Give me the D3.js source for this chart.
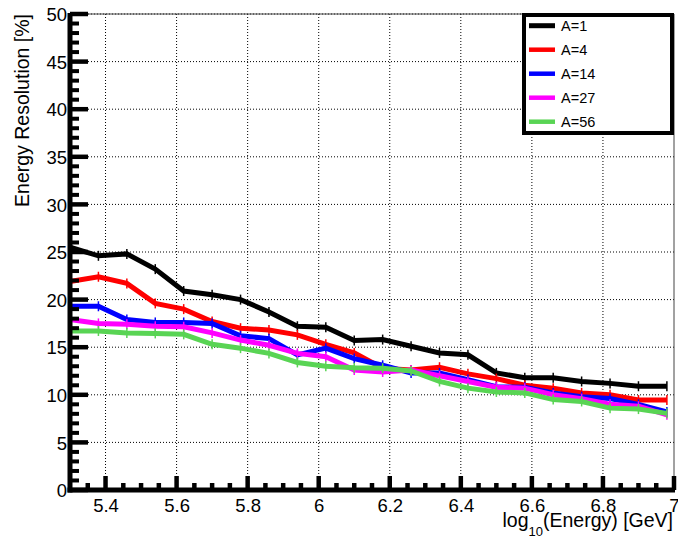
<!DOCTYPE html>
<html>
<head>
<meta charset="utf-8">
<script src="https://cdn.jsdelivr.net/npm/d3@7"></script>
<style>
  html, body { margin: 0; padding: 0; background: #fff; }
  svg { display: block; font-family: "Liberation Sans", Arial, sans-serif; }
</style>
</head>
<body>
<div id="chart"></div>
<script>
// log10(E) bin positions
var energies = d3.range(22).map(function (i) { return +(5.3 + 0.08 * i).toFixed(2); });

var labels = ["A=1", "A=4", "A=14", "A=27", "A=56"];
var colors = ["#000000", "#ff0000", "#0000ff", "#ff00ff", "#59d454"];

var resA1  = [25.5, 24.6, 24.8, 23.2, 20.9, 20.5, 20.0, 18.7, 17.2, 17.1, 15.7, 15.8, 15.1, 14.4, 14.2, 12.3, 11.8, 11.8, 11.4, 11.2, 10.9, 10.9];
var resA4  = [21.9, 22.4, 21.7, 19.6, 19.0, 17.7, 17.0, 16.8, 16.3, 15.3, 14.4, 12.8, 12.6, 12.9, 12.2, 11.7, 11.0, 10.7, 10.2, 10.0, 9.45, 9.45];
var resA14 = [19.3, 19.3, 17.9, 17.6, 17.6, 17.5, 16.2, 15.9, 14.2, 14.9, 13.8, 13.1, 12.3, 12.3, 11.6, 10.85, 10.8, 10.2, 9.8, 9.6, 9.0, 8.2];
var resA27 = [17.9, 17.5, 17.4, 17.2, 17.15, 16.5, 15.75, 15.2, 14.35, 14.0, 12.6, 12.4, 12.6, 12.0, 11.4, 10.8, 10.7, 10.0, 9.6, 9.0, 8.8, 7.9];
var resA56 = [16.7, 16.7, 16.5, 16.45, 16.35, 15.3, 14.9, 14.35, 13.4, 13.0, 12.85, 12.8, 12.5, 11.4, 10.7, 10.3, 10.2, 9.5, 9.3, 8.6, 8.5, 8.05];

var series = [resA1, resA4, resA14, resA27, resA56];

var xTicks = [5.4, 5.6, 5.8, 6, 6.2, 6.4, 6.6, 6.8, 7];
var yTicks = [0, 5, 10, 15, 20, 25, 30, 35, 40, 45, 50];

var W = 678, H = 539;
var padL = 70, padR = 674, padT = 14, padB = 490;
var fontFam = "Liberation Sans, Arial, sans-serif";

var x = d3.scaleLinear().domain([5.3, 7]).range([padL, padR]);
var y = d3.scaleLinear().domain([0, 50]).range([padB, padT]);

var svg = d3.select("#chart").append("svg")
  .attr("width", W).attr("height", H);

// grid
var grid = svg.append("g");
grid.selectAll(".gx").data(xTicks.filter(function (d) { return d < 7; }))
  .enter().append("line")
  .attr("x1", function (d) { return x(d); }).attr("x2", function (d) { return x(d); })
  .attr("y1", padT).attr("y2", padB)
  .attr("stroke", "#000").attr("stroke-width", 1).attr("stroke-dasharray", "1,2");
grid.selectAll(".gy").data(yTicks.filter(function (d) { return d > 0; }))
  .enter().append("line")
  .attr("x1", padL).attr("x2", padR)
  .attr("y1", function (d) { return y(d); }).attr("y2", function (d) { return y(d); })
  .attr("stroke", "#000").attr("stroke-width", 1).attr("stroke-dasharray", "1,2");

// frame top / right
svg.append("line").attr("x1", padL).attr("x2", padR).attr("y1", padT).attr("y2", padT)
  .attr("stroke", "#444").attr("stroke-width", 1);
svg.append("line").attr("x1", padR).attr("x2", padR).attr("y1", padT).attr("y2", padB)
  .attr("stroke", "#444").attr("stroke-width", 1);

// series
var line = d3.line()
  .x(function (d, i) { return x(energies[i]); })
  .y(function (d) { return y(d); });

series.forEach(function (vals, k) {
  var g = svg.append("g");
  g.append("path").datum(vals)
    .attr("d", line)
    .attr("fill", "none")
    .attr("stroke", colors[k])
    .attr("stroke-width", 5)
    .attr("stroke-linejoin", "miter");
  // small error bar marks
  g.selectAll("line").data(vals).enter().append("line")
    .attr("x1", function (d, i) { return x(energies[i]); })
    .attr("x2", function (d, i) { return x(energies[i]); })
    .attr("y1", function (d) { return y(d) - 5; })
    .attr("y2", function (d) { return y(d) + 5; })
    .attr("stroke", colors[k]).attr("stroke-width", 1.5);
});

// y axis ticks
var yMinor = d3.range(0, 51, 1).filter(function (d) { return d % 5 !== 0; });
var ya = svg.append("g");
ya.selectAll(".ymaj").data(yTicks).enter().append("line")
  .attr("x1", padL).attr("x2", padL + 18)
  .attr("y1", function (d) { return y(d); }).attr("y2", function (d) { return y(d); })
  .attr("stroke", "#000").attr("stroke-width", 4.5);
ya.selectAll(".ymin").data(yMinor).enter().append("line")
  .attr("x1", padL).attr("x2", padL + 9)
  .attr("y1", function (d) { return y(d); }).attr("y2", function (d) { return y(d); })
  .attr("stroke", "#000").attr("stroke-width", 4);
var yAxis = d3.axisLeft(y).tickValues(yTicks).tickSize(0).tickPadding(0)
  .tickFormat(d3.format("d"));
var yg = svg.append("g").attr("transform", "translate(" + (padL - 3) + ",0)").call(yAxis);
yg.select(".domain").remove();
yg.selectAll("text").attr("font-size", 18.5).attr("fill", "#000")
  .attr("font-family", fontFam).attr("dy", "0.36em");

// x axis ticks
var xMinor = d3.range(5.35, 7.0, 0.05).filter(function (d) {
  return Math.abs(d * 5 - Math.round(d * 5)) > 0.01;
});
var xa = svg.append("g");
xa.selectAll(".xmaj").data(xTicks).enter().append("line")
  .attr("x1", function (d) { return x(d); }).attr("x2", function (d) { return x(d); })
  .attr("y1", padB).attr("y2", padB - 14)
  .attr("stroke", "#000").attr("stroke-width", 4.5);
xa.selectAll(".xmin").data(xMinor).enter().append("line")
  .attr("x1", function (d) { return x(d); }).attr("x2", function (d) { return x(d); })
  .attr("y1", padB).attr("y2", padB - 7)
  .attr("stroke", "#000").attr("stroke-width", 4.5);
var xAxis = d3.axisBottom(x).tickValues(xTicks).tickSize(0).tickPadding(0)
  .tickFormat(function (d) { return String(+d.toFixed(1)); });
var xg = svg.append("g").attr("transform", "translate(0," + padB + ")").call(xAxis);
xg.select(".domain").remove();
xg.selectAll("text").attr("font-size", 18.5).attr("fill", "#000")
  .attr("font-family", fontFam)
  .attr("dy", null).attr("y", 22);

// main axis lines
svg.append("line").attr("x1", padL).attr("x2", padL).attr("y1", padT - 1).attr("y2", padB + 2.5)
  .attr("stroke", "#000").attr("stroke-width", 5);
svg.append("line").attr("x1", padL - 2.5).attr("x2", padR + 1).attr("y1", padB).attr("y2", padB)
  .attr("stroke", "#000").attr("stroke-width", 5);

// axis titles
svg.append("text")
  .attr("transform", "translate(29," + padT + ") rotate(-90)")
  .attr("text-anchor", "end")
  .attr("font-size", 19.5)
  .text("Energy Resolution [%]");

var xt = svg.append("text")
  .attr("x", padR - 1).attr("y", 527)
  .attr("text-anchor", "end")
  .attr("font-size", 19.5);
xt.append("tspan").text("log");
xt.append("tspan").attr("font-size", 13).attr("dy", 9).text("10");
xt.append("tspan").attr("dy", -9).text("(Energy) [GeV]");

// legend
var lg = svg.append("g");
lg.append("rect")
  .attr("x", 524).attr("y", 15).attr("width", 148).attr("height", 118)
  .attr("fill", "#fff").attr("stroke", "#000").attr("stroke-width", 4);
var entry = lg.selectAll(".entry").data(labels).enter().append("g")
  .attr("transform", function (d, i) { return "translate(0," + (25.7 + i * 24) + ")"; });
entry.append("line")
  .attr("x1", 529).attr("x2", 555).attr("y1", 0).attr("y2", 0)
  .attr("stroke", function (d, i) { return colors[i]; })
  .attr("stroke-width", function (d, i) { return i === 0 ? 5 : 4.5; });
entry.append("text")
  .attr("x", 561).attr("y", 0).attr("dy", "0.36em")
  .attr("font-size", 14.5)
  .text(function (d) { return d; });
</script>
</body>
</html>
